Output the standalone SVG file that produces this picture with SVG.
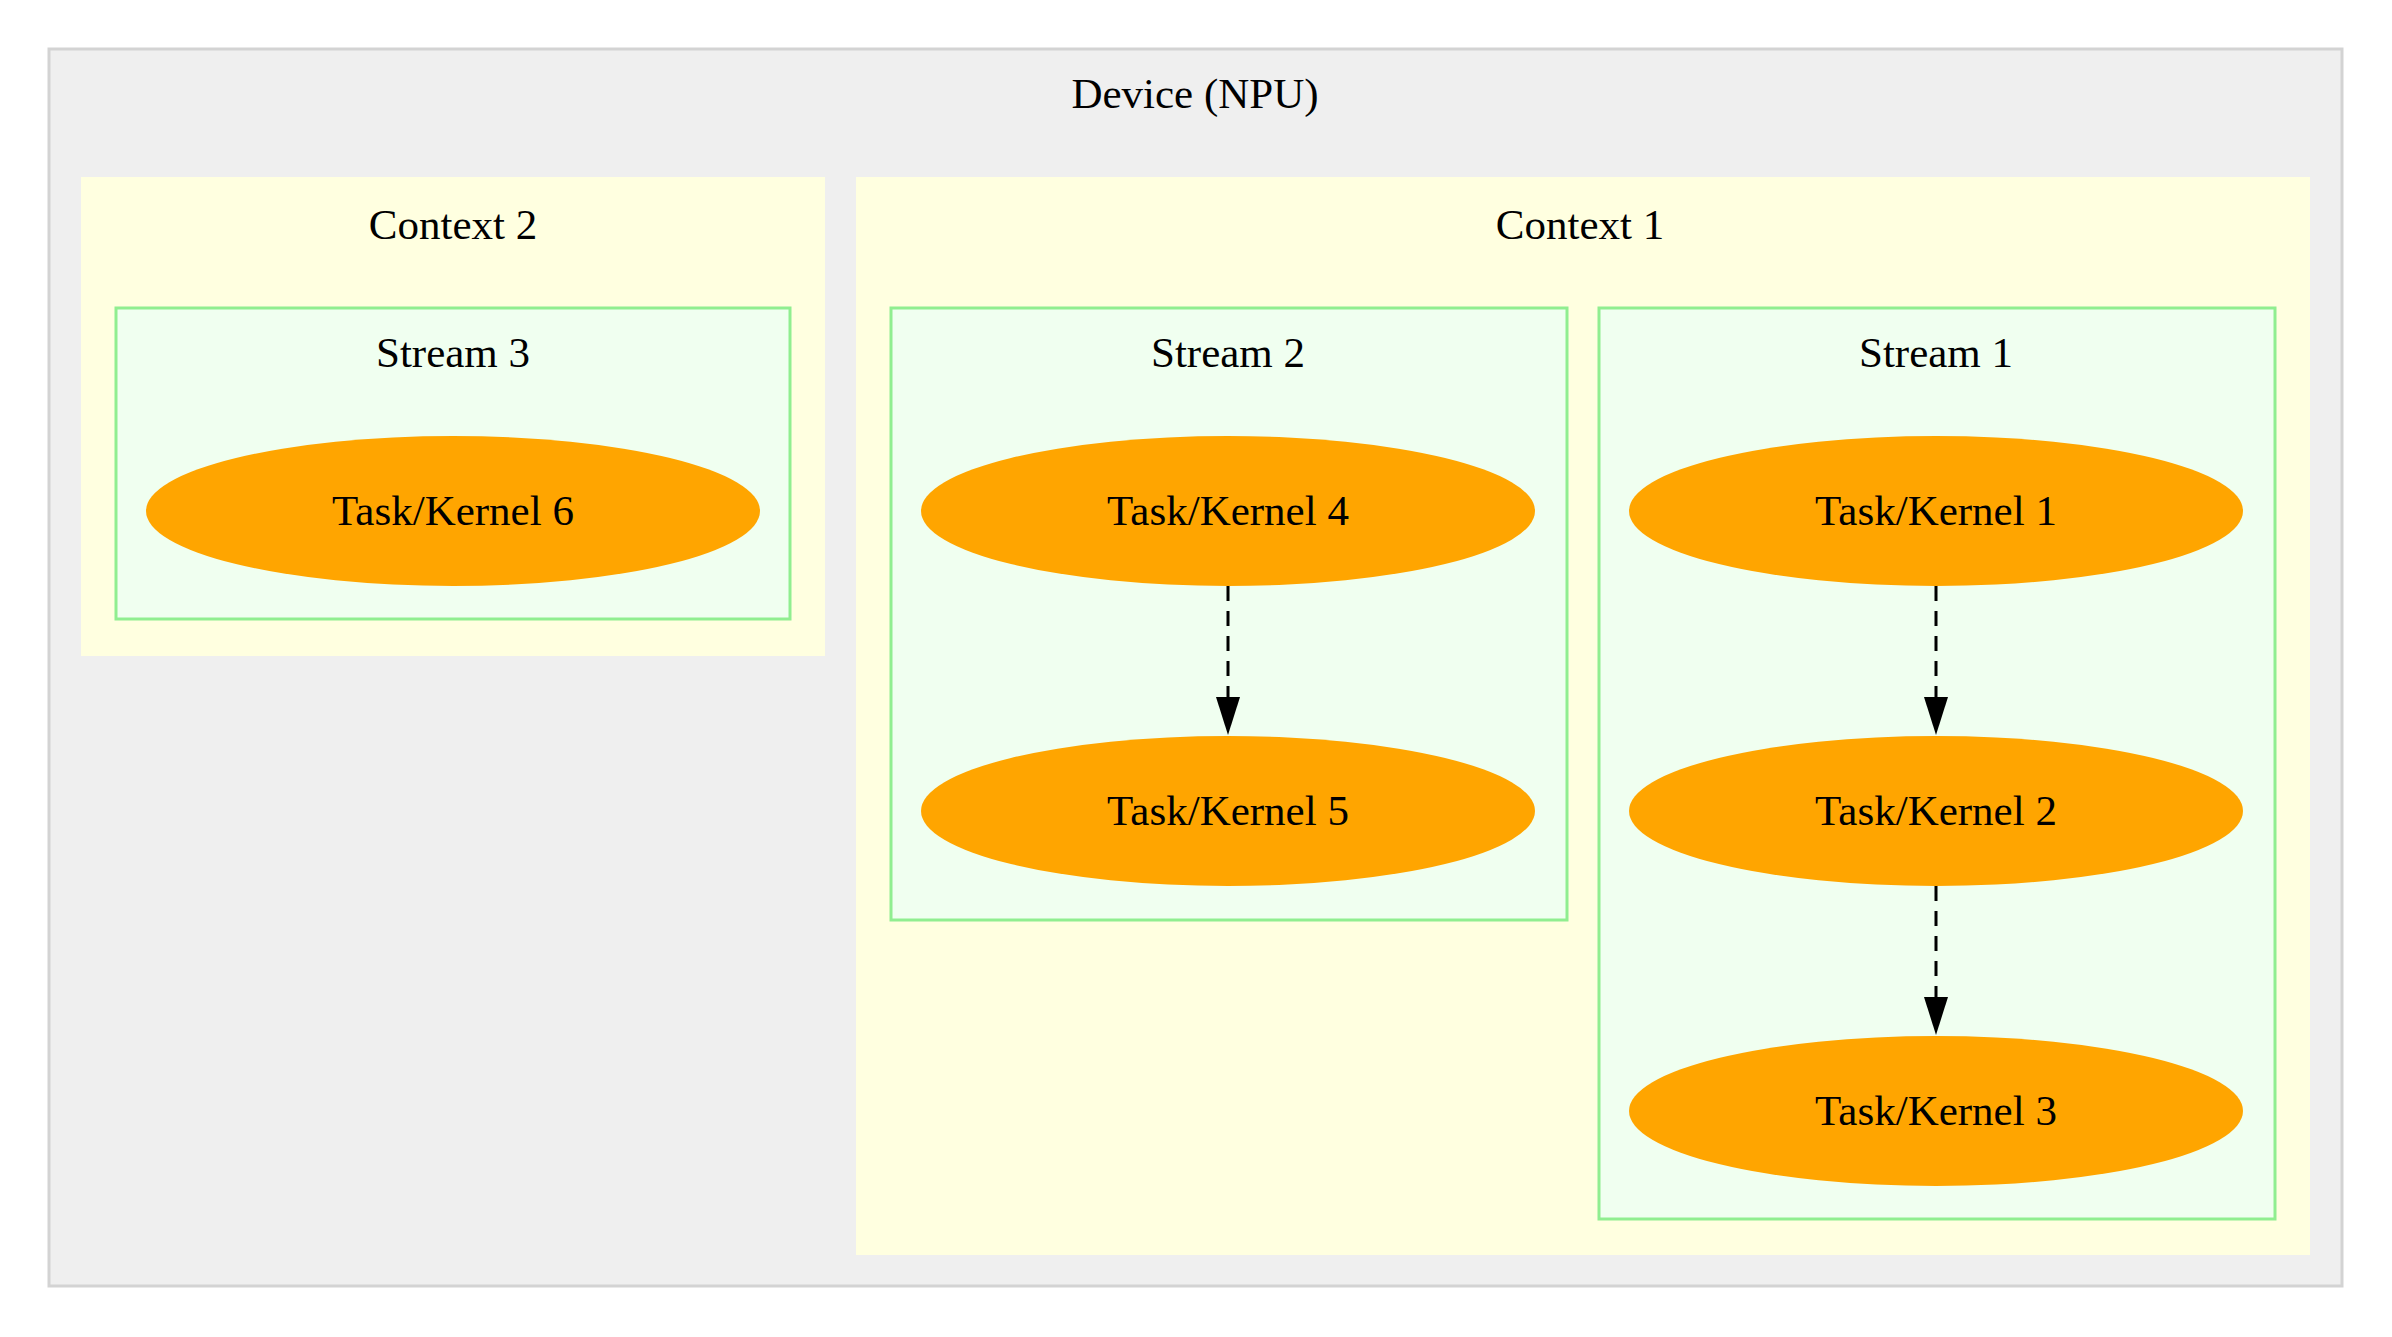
<svg xmlns="http://www.w3.org/2000/svg" width="2392" height="1337" viewBox="0 0 2392 1337">
<style>
text{font-family:"Liberation Serif","DejaVu Serif",serif;font-size:43px;text-anchor:middle;fill:#000}
.ctx{fill:#ffffe0;stroke:none}
.str{fill:#f0fff0;stroke:#90ee90;stroke-width:3}
.node ellipse{fill:#ffa500;stroke:none}
.edge{stroke:#000;stroke-width:3;stroke-dasharray:15,10;fill:none}
</style>
<defs><marker id="ah" markerWidth="10" markerHeight="10" refX="9" refY="5" orient="auto" markerUnits="userSpaceOnUse" viewBox="0 0 10 10"><path d="M0,0 L10,5 L0,10 z" fill="#000"/></marker>
<marker id="a" markerWidth="38" markerHeight="24" refX="38" refY="12" orient="auto" markerUnits="userSpaceOnUse"><path d="M0,0 L38,12 L0,24 z" fill="#000"/></marker></defs>
<rect width="2392" height="1337" fill="#fff"/>
<g id="device"><rect x="49" y="49" width="2293" height="1237" fill="#efefef" stroke="#d3d3d3" stroke-width="3"/><text x="1195" y="108">Device (NPU)</text></g>
<g id="context2"><rect class="ctx" x="81" y="177" width="744" height="479"/><text x="453" y="239">Context 2</text></g>
<g id="context1"><rect class="ctx" x="856" y="177" width="1454" height="1078"/><text x="1580" y="239">Context 1</text></g>
<g id="stream3"><rect class="str" x="116" y="308" width="674" height="311"/><text x="453" y="367">Stream 3</text></g>
<g id="stream2"><rect class="str" x="891" y="308" width="676" height="612"/><text x="1228" y="367">Stream 2</text></g>
<g id="stream1"><rect class="str" x="1599" y="308" width="676" height="911"/><text x="1936" y="367">Stream 1</text></g>
<g id="k6" class="node"><ellipse cx="453" cy="511" rx="307" ry="75"/><text x="453" y="525">Task/Kernel 6</text></g>
<g id="k4" class="node"><ellipse cx="1228" cy="511" rx="307" ry="75"/><text x="1228" y="525">Task/Kernel 4</text></g>
<g id="k5" class="node"><ellipse cx="1228" cy="811" rx="307" ry="75"/><text x="1228" y="825">Task/Kernel 5</text></g>
<g id="k1" class="node"><ellipse cx="1936" cy="511" rx="307" ry="75"/><text x="1936" y="525">Task/Kernel 1</text></g>
<g id="k2" class="node"><ellipse cx="1936" cy="811" rx="307" ry="75"/><text x="1936" y="825">Task/Kernel 2</text></g>
<g id="k3" class="node"><ellipse cx="1936" cy="1111" rx="307" ry="75"/><text x="1936" y="1125">Task/Kernel 3</text></g>
<g id="edges">
<path class="edge" d="M1228,586 L1228,735" marker-end="url(#a)"/>
<path class="edge" d="M1936,586 L1936,735" marker-end="url(#a)"/>
<path class="edge" d="M1936,886 L1936,1035" marker-end="url(#a)"/>
</g>
</svg>
